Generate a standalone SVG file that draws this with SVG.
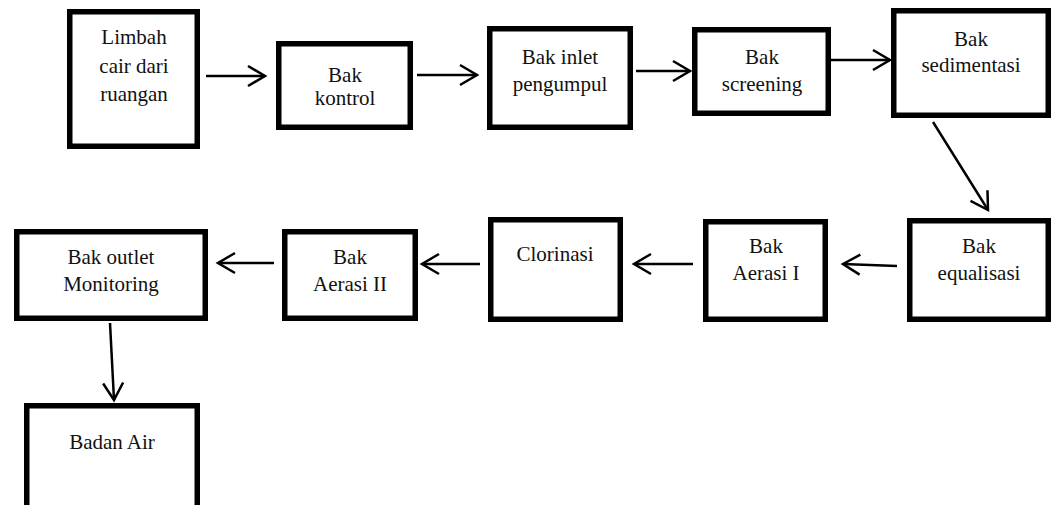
<svg xmlns="http://www.w3.org/2000/svg" width="1057" height="505" viewBox="0 0 1057 505">
<style>
.box{fill:#fff;stroke:#000;stroke-width:5.5}
.lbl{font-family:"Liberation Serif","Times New Roman",serif;font-size:21px;fill:#111;text-anchor:middle}
.con{stroke:#000;stroke-width:2.5;fill:none;marker-end:url(#ah)}
</style>
<defs>
<marker id="ah" markerUnits="userSpaceOnUse" viewBox="-22 -14 26 28" markerWidth="26" markerHeight="28" refX="0" refY="0" orient="auto" overflow="visible">
<path d="M-17,-10 L0,0 L-17,10" fill="none" stroke="#000" stroke-width="2.5"/>
</marker>
</defs>
<rect width="1057" height="505" fill="#fff"/>
<g id="n1"><rect class="box" x="69.75" y="11.75" width="127.5" height="134.5"/><text class="lbl" x="134" y="44">Limbah</text><text class="lbl" x="134" y="73">cair dari</text><text class="lbl" x="134" y="101">ruangan</text></g>
<g id="n2"><rect class="box" x="278.75" y="43.75" width="131.5" height="83.5"/><text class="lbl" x="345" y="82">Bak</text><text class="lbl" x="345" y="105">kontrol</text></g>
<g id="n3"><rect class="box" x="489.75" y="28.75" width="140.5" height="98.5"/><text class="lbl" x="560" y="64">Bak inlet</text><text class="lbl" x="560" y="91">pengumpul</text></g>
<g id="n4"><rect class="box" x="694.75" y="29.75" width="133.5" height="83.5"/><text class="lbl" x="762" y="64">Bak</text><text class="lbl" x="762" y="91">screening</text></g>
<g id="n5"><rect class="box" x="893.75" y="10.75" width="154.5" height="104.5"/><text class="lbl" x="971" y="46">Bak</text><text class="lbl" x="971" y="72">sedimentasi</text></g>
<g id="n6"><rect class="box" x="909.75" y="220.75" width="138.5" height="98.5"/><text class="lbl" x="979" y="253">Bak</text><text class="lbl" x="979" y="280">equalisasi</text></g>
<g id="n7"><rect class="box" x="705.75" y="221.75" width="119.5" height="97.5"/><text class="lbl" x="766" y="253">Bak</text><text class="lbl" x="766" y="280">Aerasi I</text></g>
<g id="n8"><rect class="box" x="490.75" y="219.75" width="129.5" height="99.5"/><text class="lbl" x="555" y="261">Clorinasi</text></g>
<g id="n9"><rect class="box" x="284.75" y="231.75" width="130.5" height="86.5"/><text class="lbl" x="350" y="264">Bak</text><text class="lbl" x="350" y="291">Aerasi II</text></g>
<g id="n10"><rect class="box" x="16.75" y="231.75" width="188.5" height="86.5"/><text class="lbl" x="111" y="264">Bak outlet</text><text class="lbl" x="111" y="291">Monitoring</text></g>
<g id="n11"><rect class="box" x="26.75" y="405.75" width="170.5" height="130"/><text class="lbl" x="112" y="449">Badan Air</text></g>
<g id="connectors">
<line class="con" x1="206" y1="76" x2="265" y2="76"/>
<line class="con" x1="417" y1="75" x2="477" y2="75"/>
<line class="con" x1="636" y1="71" x2="690" y2="71"/>
<line class="con" x1="831" y1="60" x2="890" y2="60"/>
<line class="con" x1="933" y1="122" x2="988" y2="210"/>
<line class="con" x1="897" y1="266" x2="843" y2="264"/>
<line class="con" x1="693" y1="264" x2="634" y2="264"/>
<line class="con" x1="480" y1="264" x2="422" y2="264"/>
<line class="con" x1="274" y1="263" x2="218" y2="263"/>
<line class="con" x1="110" y1="323" x2="114" y2="400"/>
</g>
</svg>
